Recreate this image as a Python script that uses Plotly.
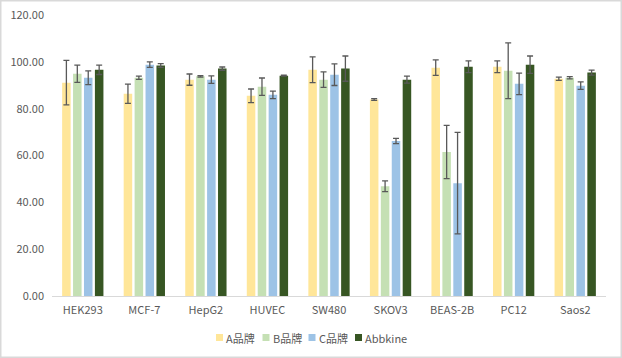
import plotly.graph_objects as go

categories = ["HEK293", "MCF-7", "HepG2", "HUVEC", "SW480", "SKOV3", "BEAS-2B", "PC12", "Saos2"]
series_names = ["A品牌", "B品牌", "C品牌", "Abbkine"]
a_vals = [91.1, 86.4, 92.4, 85.5, 96.6, 83.9, 97.5, 97.9, 92.8]
a_err = [9.5, 4.1, 2.4, 2.9, 5.5, 0.4, 3.3, 2.5, 0.7]
b_vals = [94.9, 93.2, 93.8, 89.4, 92.4, 46.9, 61.5, 96.2, 93.2]
b_err = [3.7, 0.7, 0.3, 3.7, 3.3, 2.3, 11.4, 11.9, 0.5]
c_vals = [93.2, 98.8, 92.4, 85.9, 94.5, 66.2, 48.2, 90.6, 89.8]
c_err = [2.9, 1.2, 1.6, 1.6, 4.6, 1.1, 21.7, 4.6, 1.6]
d_vals = [96.6, 98.4, 97.1, 94.1, 97.1, 92.4, 97.9, 98.8, 95.4]
d_err = [2.0, 0.8, 0.7, 0.2, 5.4, 1.5, 2.5, 3.7, 1.1]
y_ticks = [0, 20, 40, 60, 80, 100, 120]

colors = ["#FFE699", "#C5E0B4", "#9DC3E6", "#375623"]
vals = [a_vals, b_vals, c_vals, d_vals]
errs = [a_err, b_err, c_err, d_err]

font_family = "Noto Sans CJK SC, Noto Sans, sans-serif"
W, H = 622, 358
ML, MR, MT, MB = 52, 16, 15, 62
PW, PH = W - ML - MR, H - MT - MB


def px_x(px):
    return (px - ML) / PW


def px_y(py):
    return (H - MB - py) / PH


fig = go.Figure()
for name, v, e, col in zip(series_names, vals, errs, colors):
    fig.add_trace(go.Bar(
        x=categories, y=v, name=name, showlegend=False,
        marker=dict(color=col, line=dict(width=0)),
        error_y=dict(type="data", array=e, visible=True, color="#595959",
                     thickness=1.3, width=3),
    ))

fig.update_layout(
    width=W, height=H,
    margin=dict(l=ML, r=MR, t=MT, b=MB, autoexpand=False),
    paper_bgcolor="white", plot_bgcolor="white",
    barmode="group", bargap=0.29, bargroupgap=0.22,
    font=dict(family=font_family, size=11, color="#595959"),
    showlegend=False,
    xaxis=dict(showline=True, linecolor="#D9D9D9", linewidth=1, ticks="",
               showgrid=False, ticklabelstandoff=4,
               tickfont=dict(size=11, color="#595959")),
    yaxis=dict(range=[0, 120], tickvals=y_ticks, tickformat=".2f", showgrid=False,
               zeroline=False, showline=False, ticks="", ticklabelstandoff=7,
               tickfont=dict(size=11, color="#595959")),
)

# outer chart border
fig.add_shape(type="rect", xref="paper", yref="paper",
              x0=px_x(0.75), x1=px_x(621.25), y0=px_y(357.25), y1=px_y(0.75),
              line=dict(color="#D9D9D9", width=1.5))

# manual legend (Excel-like compact layout)
legend_sq_x = [216, 262.5, 308.5, 355]
legend_cy = 337.5
for name, col, sx in zip(series_names, colors, legend_sq_x):
    fig.add_shape(type="rect", xref="paper", yref="paper",
                  x0=px_x(sx), x1=px_x(sx + 7), y0=px_y(legend_cy + 3.5), y1=px_y(legend_cy - 3.5),
                  line=dict(width=0), fillcolor=col)
    fig.add_annotation(xref="paper", yref="paper", x=px_x(sx + 8), y=px_y(legend_cy),
                       text=name, showarrow=False, xanchor="left", yanchor="middle",
                       font=dict(size=11, color="#595959"))

fig.write_html("out.html", config={"displayModeBar": False},
               post_script="document.body.style.margin='0px';document.body.style.overflow='hidden';")
